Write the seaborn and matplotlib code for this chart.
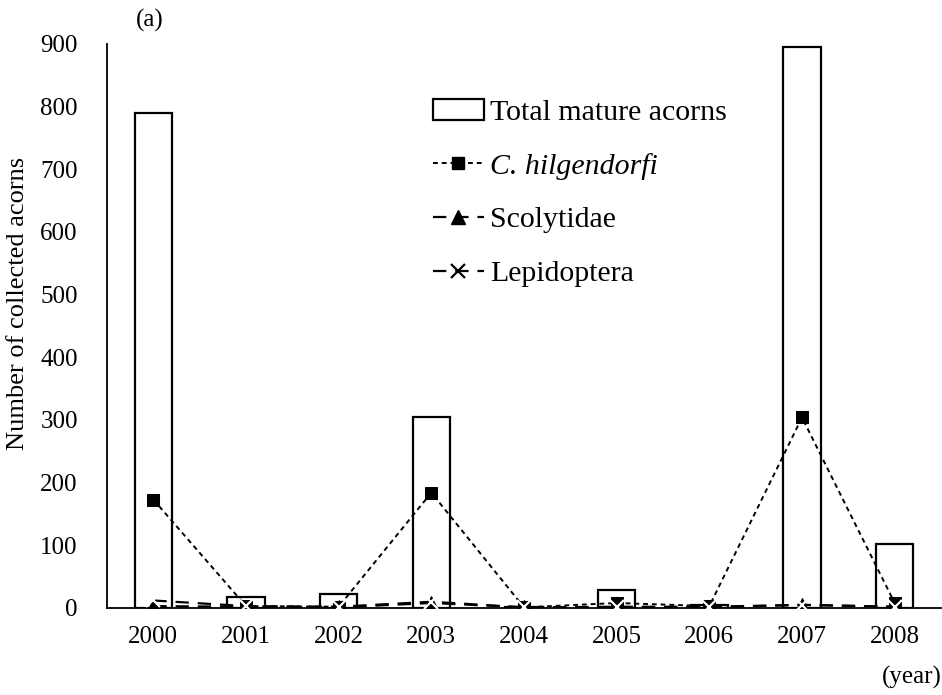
import matplotlib
matplotlib.use("Agg")
import matplotlib.pyplot as plt
import seaborn as sns
import numpy as np
import pandas as pd
from matplotlib.patches import Patch
from matplotlib.lines import Line2D

years = ["2000", "2001", "2002", "2003", "2004", "2005", "2006", "2007", "2008"]
total_mature = [790, 18, 22, 305, 2, 29, 5, 896, 102]
c_hilgendorfi = [173, 3, 2, 184, 1, 8, 3, 304, 8]
scolytidae = [3, 2, 1, 8, 1, 1, 1, 5, 2]
lepidoptera = [12, 3, 2, 10, 1, 2, 2, 5, 2]
yticks = [0, 100, 200, 300, 400, 500, 600, 700, 800, 900]

sns.set_theme(style="white")
plt.rcParams['font.family'] = ['Liberation Serif', 'DejaVu Serif']
plt.rcParams['text.color'] = 'black'
plt.rcParams['axes.labelcolor'] = 'black'
plt.rcParams['xtick.color'] = 'black'
plt.rcParams['ytick.color'] = 'black'

fig = plt.figure(figsize=(9.42, 6.95), dpi=100)
ax = fig.add_axes([107/942, 87/695, (941-107)/942, (607-43)/695])

df = pd.DataFrame({"year": years, "total": total_mature})
sns.barplot(data=df, x="year", y="total", ax=ax, color="white",
            edgecolor="black", linewidth=1.6, width=0.4, zorder=1)

idx = np.arange(len(years))
sns.lineplot(x=idx, y=c_hilgendorfi, ax=ax, color="black", linewidth=1.4,
             linestyle=(0, (2.5, 2)), marker="s", markersize=8,
             markeredgecolor="black", zorder=3)
sns.lineplot(x=idx, y=scolytidae, ax=ax, color="black", linewidth=1.6,
             linestyle=(0, (6, 4)), marker="^", markersize=10,
             markeredgecolor="black", zorder=3)
sns.lineplot(x=idx, y=lepidoptera, ax=ax, color="black", linewidth=1.6,
             linestyle=(0, (6, 4)), marker="x", markersize=10,
             markeredgewidth=1.6, zorder=3)

ax.set_xlim(-0.5, len(years) - 0.5)
ax.set_ylim(0, 900)
ax.set_yticks(yticks)
ax.set_yticklabels([str(v) for v in yticks], fontsize=18)
ax.set_xticks(idx)
ax.set_xticklabels(years, fontsize=18)
ax.set_xticks(np.arange(len(years) + 1) - 0.5, minor=True)
ax.tick_params(axis='x', which='major', length=0, pad=13)
ax.tick_params(axis='x', which='minor', direction='in', length=6, width=1.2, color='black')
ax.tick_params(axis='y', which='major', direction='in', length=7, width=1.2, color='black', pad=21)
ax.set_xlabel("")
ax.set_ylabel("Number of collected acorns", fontsize=19)
ax.yaxis.set_label_coords(-0.094, 0.54)

for s in ["top", "right"]:
    ax.spines[s].set_visible(False)
for s in ["left", "bottom"]:
    ax.spines[s].set_color("black")
    ax.spines[s].set_linewidth(1.3)

handles = [
    Patch(facecolor="white", edgecolor="black", linewidth=1.6),
    Line2D([], [], color="black", linewidth=1.4, linestyle=(0, (2.5, 2)), marker="s", markersize=8),
    Line2D([], [], color="black", linewidth=1.6, linestyle=(0, (6, 4)), marker="^", markersize=10),
    Line2D([], [], color="black", linewidth=1.6, linestyle=(0, (6, 4)), marker="x", markersize=10, markeredgewidth=1.6),
]
labels = ["Total mature acorns", "C. hilgendorfi", "Scolytidae", "Lepidoptera"]
leg = fig.legend(handles, labels, loc="upper left", bbox_to_anchor=(421/942, 1 - 87/695),
                 frameon=False, fontsize=21.5, handlelength=1.7, handletextpad=0.2,
                 labelspacing=0.9, borderaxespad=0)
for t in leg.get_texts():
    if "hilgendorfi" in t.get_text():
        t.set_fontstyle("italic")

fig.text(150/942, 1 - 20/695, "(a)", fontsize=18, ha="center", va="center")
fig.text(912/942, 1 - 677/695, "(year)", fontsize=18, ha="center", va="center")

fig.savefig("out.png", dpi=100)
